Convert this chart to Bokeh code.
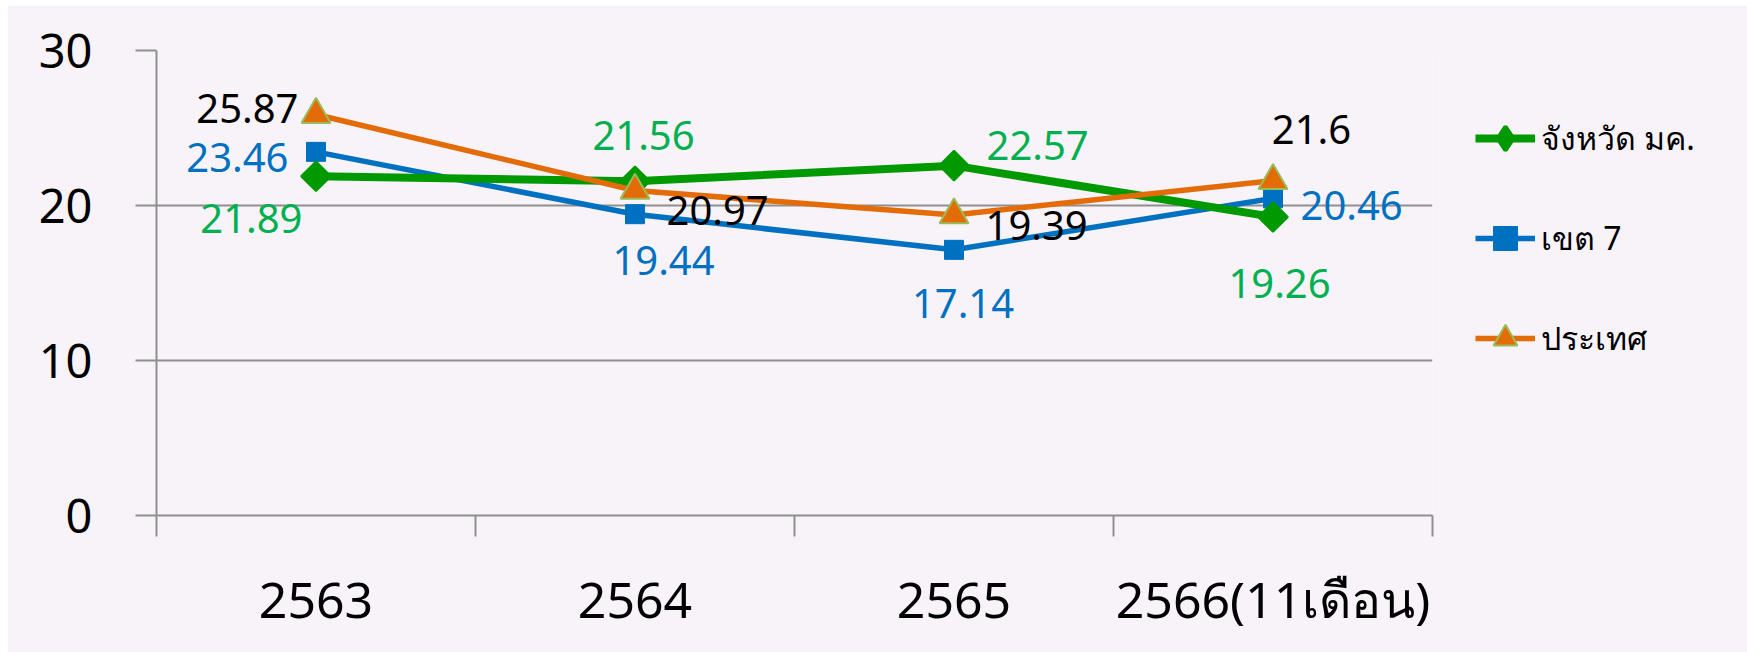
import math
from bokeh.plotting import figure
from bokeh.models import Range1d, FixedTicker, ColumnDataSource, Legend, LegendItem
from bokeh.core.properties import value
from bokeh.embed import file_html
from bokeh.resources import INLINE

# ---- data ----
categories = ["2563", "2564", "2565", "2566(11เดือน)"]
series_names = ["จังหวัด มค.", "เขต 7", "ประเทศ"]
province = [21.89, 21.56, 22.57, 19.26]
region7 = [23.46, 19.44, 17.14, 20.46]
country = [25.87, 20.97, 19.39, 21.6]
y_ticks = [0, 10, 20, 30]

# ---- label layout (pixel offsets from each point; dy positive = down) ----
prov_lbl_dx = [-13.5, 8.5, 32.5, 6.5]
prov_lbl_dy = [42, -46, -20, 66.5]
prov_lbl_align = ["right", "center", "left", "center"]
reg_lbl_dx = [-27.5, 28.5, 9, 27.5]
reg_lbl_dy = [6, 46, 54, 7]
reg_lbl_align = ["right", "center", "center", "left"]
cty_lbl_dx = [-17.5, 31.5, 31.5, 38.5]
cty_lbl_dy = [-6, 20, 10.5, -51]
cty_lbl_align = ["right", "left", "left", "center"]

BG = "#F7F3F9"
GRID = "#8F8F8F"
FONT = "Noto Sans"
GREEN, GREEN_LBL = "#009900", "#00B050"
BLUE = "#0070C0"
ORANGE, TRI_EDGE = "#E36C09", "#9BBB59"

n = len(categories)
xs = [i + 0.5 for i in range(n)]

p = figure(frame_width=1276, frame_height=465,
           x_range=Range1d(0, n), y_range=Range1d(0, 30),
           output_backend="svg", toolbar_location=None,
           min_border_left=149, min_border_top=45,
           min_border_right=313, min_border_bottom=137,
           background_fill_color=BG, border_fill_color=BG,
           outline_line_color=None)
p.margin = (5, 0, 0, 7)

# x axis
xa = p.xaxis[0]
xa.ticker = FixedTicker(ticks=xs, minor_ticks=list(range(n + 1)))
xa.major_label_overrides = {x: c for x, c in zip(xs, categories)}
xa.major_tick_out = 0
xa.major_tick_in = 0
xa.minor_tick_out = 21
xa.minor_tick_in = 0
xa.minor_tick_line_color = GRID
xa.minor_tick_line_width = 2
xa.axis_line_color = GRID
xa.axis_line_width = 2
xa.major_label_text_font = FONT
xa.major_label_text_font_size = "50px"
xa.major_label_text_color = "black"
xa.major_label_standoff = 28

# y axis
ya = p.yaxis[0]
ya.ticker = FixedTicker(ticks=y_ticks, minor_ticks=[])
ya.major_tick_out = 21
ya.major_tick_in = 0
ya.minor_tick_out = 0
ya.minor_tick_in = 0
ya.major_tick_line_color = GRID
ya.major_tick_line_width = 2
ya.axis_line_color = GRID
ya.axis_line_width = 2
ya.major_label_text_font = FONT
ya.major_label_text_font_size = "47px"
ya.major_label_text_color = "black"
ya.major_label_standoff = 43

p.xgrid.visible = False
p.ygrid.grid_line_color = GRID
p.ygrid.grid_line_width = 2

# series
src_p = ColumnDataSource(dict(x=xs, y=province, t=[str(v) for v in province],
                              dx=prov_lbl_dx, dy=prov_lbl_dy, al=prov_lbl_align))
src_r = ColumnDataSource(dict(x=xs, y=region7, t=[str(v) for v in region7],
                              dx=reg_lbl_dx, dy=reg_lbl_dy, al=reg_lbl_align))
src_c = ColumnDataSource(dict(x=xs, y=country, t=[str(v) for v in country],
                              dx=cty_lbl_dx, dy=cty_lbl_dy, al=cty_lbl_align))

l_r = p.line("x", "y", source=src_r, line_color=BLUE, line_width=5.5, line_join="round")
m_r = p.scatter("x", "y", source=src_r, marker="square", size=19,
                fill_color=BLUE, line_color=BLUE, line_width=1)

l_p = p.line("x", "y", source=src_p, line_color=GREEN, line_width=8, line_join="round")
# tiny diamond under the main markers: gives the legend its diamond swatch
m_p_leg = p.scatter("x", "y", source=src_p, marker="diamond", size=2,
                    fill_color=GREEN, line_color=GREEN, line_width=4)
m_p = p.scatter("x", "y", source=src_p, marker="square", angle=math.pi / 4, size=21,
                fill_color=GREEN, line_color=GREEN, line_width=2)

l_c = p.line("x", "y", source=src_c, line_color=ORANGE, line_width=5.5, line_join="round")
m_c = p.scatter("x", "y", source=src_c, marker="triangle", size=29,
                fill_color=ORANGE, line_color=TRI_EDGE, line_width=2)

for src, col in ((src_p, GREEN_LBL), (src_r, BLUE), (src_c, "black")):
    p.text("x", "y", text="t", source=src, x_offset="dx", y_offset="dy",
           text_align="al", text_baseline="alphabetic",
           text_font=value(FONT), text_font_size="40px", text_color=col)

legend = Legend(items=[
    LegendItem(label=series_names[0], renderers=[l_p, m_p_leg]),
    LegendItem(label=series_names[1], renderers=[l_r, m_r]),
    LegendItem(label=series_names[2], renderers=[l_c, m_c]),
], location=(43, 147))
legend.orientation = "vertical"
legend.glyph_width = 60
legend.glyph_height = 60
legend.label_height = 60
legend.spacing = 40
legend.padding = 0
legend.margin = 0
legend.label_standoff = 6
legend.label_text_font = FONT
legend.label_text_font_size = "32px"
legend.label_text_color = "black"
legend.border_line_color = None
legend.background_fill_alpha = 0
p.add_layout(legend, "right")

open("out.html", "w").write(file_html(p, INLINE))
